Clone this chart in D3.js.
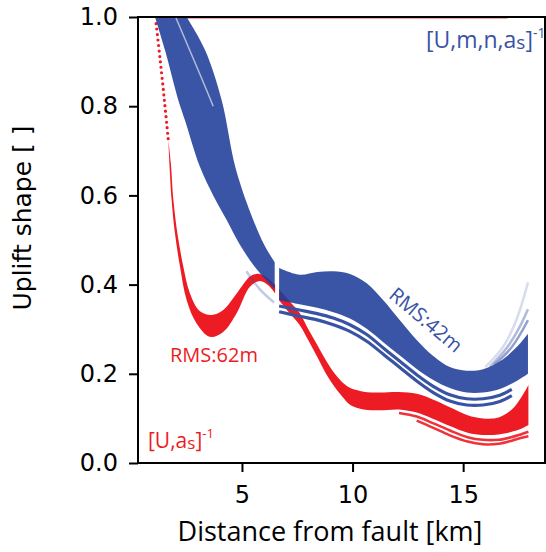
<!DOCTYPE html>
<html><head><meta charset="utf-8">
<script src="https://cdn.jsdelivr.net/npm/d3@7"></script>
<style>
html,body{margin:0;padding:0;background:#fff;}
svg{display:block;}
</style></head>
<body>
<svg id="chart" width="546" height="552"></svg>
<script>
// Axis ticks
const xTicks = [5, 10, 15];
const yTicks = [0.0, 0.2, 0.4, 0.6, 0.8, 1.0];

// [U,as]^-1 ensemble (red): steep near-fault part, then envelope of the band
const redTopX = [1.12, 1.3, 1.5, 1.67];
const redTopY = [0.985, 0.905, 0.81, 0.724];
const redCapX = [2.3, 17.0];            // curves saturating at 1.0
const redUpX1 = [1.67, 1.78, 1.9, 2.08, 2.35, 2.65, 3.1, 3.63, 4.15, 4.76, 5.36, 5.66, 6.0, 6.5];
const redUpY1 = [0.724, 0.675, 0.59, 0.515, 0.44, 0.38, 0.34, 0.332, 0.343, 0.38, 0.418, 0.424, 0.42, 0.40];
const redLoX1 = [1.67, 1.82, 1.97, 2.2, 2.5, 2.95, 3.55, 4.15, 4.76, 5.36, 5.81, 6.2, 6.5];
const redLoY1 = [0.724, 0.59, 0.515, 0.44, 0.365, 0.313, 0.283, 0.294, 0.336, 0.395, 0.408, 0.398, 0.38];
const redUpX2 = [6.68, 7.2, 7.6, 8.0, 8.4, 8.8, 9.2, 9.6, 9.9, 10.5, 11.2, 12.1, 12.9, 13.6, 14.4, 15.2, 15.9, 16.6, 17.2, 17.6, 17.95];
const redUpY2 = [0.39, 0.36, 0.337, 0.3, 0.265, 0.23, 0.2, 0.178, 0.168, 0.16, 0.158, 0.159, 0.155, 0.143, 0.125, 0.107, 0.1, 0.102, 0.12, 0.145, 0.175];
const redLoX2 = [6.68, 7.0, 7.6, 8.0, 8.4, 8.8, 9.2, 9.6, 9.9, 10.5, 11.2, 12.1, 12.9, 13.6, 14.4, 15.2, 15.9, 16.6, 17.2, 17.6, 17.95];
const redLoY2 = [0.365, 0.345, 0.31, 0.275, 0.238, 0.2, 0.17, 0.145, 0.13, 0.12, 0.118, 0.12, 0.113, 0.1, 0.083, 0.068, 0.063, 0.064, 0.07, 0.076, 0.085];
const redStrand1X = [12.1, 12.9, 13.6, 14.4, 15.2, 15.9, 16.6, 17.2, 17.6, 17.95];
const redStrand1Y = [0.112, 0.104, 0.09, 0.073, 0.058, 0.052, 0.052, 0.058, 0.064, 0.07];
const redStrand2X = [12.9, 13.6, 14.4, 15.2, 15.9, 16.6, 17.2, 17.6, 17.95];
const redStrand2Y = [0.095, 0.08, 0.062, 0.048, 0.042, 0.043, 0.05, 0.056, 0.06];

// [U,m,n,as]^-1 ensemble (blue)
const blueUpX1 = [2.5, 3.33, 4.08, 4.72, 5.51, 6.0, 6.48];
const blueUpY1 = [1.0, 0.926, 0.814, 0.66, 0.545, 0.49, 0.45];
const blueLoX1 = [1.07, 1.52, 2.12, 2.42, 3.1, 3.7, 4.31, 4.9, 5.5, 6.0, 6.48];
const blueLoY1 = [1.0, 0.926, 0.814, 0.769, 0.664, 0.6, 0.545, 0.49, 0.445, 0.415, 0.39];
const blueUpX2 = [6.68, 7.6, 8.4, 9.13, 9.88, 10.64, 11.39, 12.14, 12.9, 13.65, 14.4, 15.16, 15.9, 16.66, 17.42, 17.93];
const blueUpY2 = [0.437, 0.422, 0.428, 0.43, 0.424, 0.403, 0.365, 0.32, 0.276, 0.24, 0.215, 0.207, 0.21, 0.228, 0.26, 0.29];
const blueLoX2 = [6.68, 7.6, 8.4, 9.13, 9.88, 10.64, 11.39, 12.14, 12.9, 13.65, 14.4, 15.16, 15.9, 16.66, 17.42, 17.93];
const blueLoY2 = [0.365, 0.356, 0.348, 0.338, 0.324, 0.301, 0.271, 0.241, 0.211, 0.186, 0.168, 0.158, 0.158, 0.166, 0.184, 0.2];
const blueStrandX = [6.68, 7.6, 8.4, 9.13, 9.88, 10.64, 11.39, 12.14, 12.9, 13.65, 14.4, 15.16, 15.9, 16.66, 17.2];
const blueStrandAY = [0.352, 0.343, 0.335, 0.325, 0.31, 0.288, 0.258, 0.228, 0.198, 0.172, 0.153, 0.144, 0.144, 0.152, 0.165];
const blueStrandBY = [0.339, 0.329, 0.321, 0.31, 0.295, 0.273, 0.244, 0.214, 0.184, 0.158, 0.139, 0.13, 0.13, 0.138, 0.151];
const blueFadeLX = [5.2, 5.8, 6.45];
const blueFadeLY = [0.43, 0.39, 0.36];
const blueFan1X = [16.0, 16.8, 17.4, 17.93];
const blueFan1Y = [0.215, 0.26, 0.32, 0.405];
const blueFan2X = [16.2, 17.0, 17.5, 17.93];
const blueFan2Y = [0.215, 0.26, 0.3, 0.345];
const blueFan3X = [16.4, 17.2, 17.93];
const blueFan3Y = [0.22, 0.26, 0.32];
const blueStreakX = [2.0, 2.6, 3.2, 3.7];
const blueStreakY = [1.0, 0.93, 0.86, 0.8];

const RED = "#ed1c24";
const BLUE = "#3953a4";

const svg = d3.select("#chart");
const plotL = 138, plotR = 545, plotT = 17, plotB = 463;

const x = d3.scaleLinear().domain([0.3, 18.7]).range([plotL, plotR]);
const y = d3.scaleLinear().domain([0, 1]).range([plotB, plotT]);

svg.append("defs").append("clipPath").attr("id", "plot")
  .append("rect").attr("x", plotL).attr("y", plotT).attr("width", plotR - plotL).attr("height", plotB - plotT);

const g = svg.append("g").attr("clip-path", "url(#plot)");

const smooth = d3.line().curve(d3.curveCatmullRom.alpha(0.5));
const pts = (xs, ys) => xs.map((d, i) => [x(d), y(ys[i])]);
function band(ux, uy, lx, ly) {
  const up = smooth(pts(ux, uy));
  const lo = smooth(pts(lx, ly).reverse());
  return up + "L" + lo.slice(1) + "Z";
}

// red ensemble
g.append("path").attr("d", smooth(pts(redTopX, redTopY)))
  .attr("fill", "none").attr("stroke", RED).attr("stroke-width", 3.2)
  .attr("stroke-linecap", "round").attr("stroke-dasharray", "0 5.5");
g.append("line").attr("x1", x(redCapX[0])).attr("x2", x(redCapX[1]))
  .attr("y1", y(1)).attr("y2", y(1)).attr("stroke", RED).attr("stroke-width", 3.6).attr("stroke-opacity", 0.55);
g.append("path").attr("d", band(redUpX1, redUpY1, redLoX1, redLoY1)).attr("fill", RED);
g.append("path").attr("d", band(redUpX2, redUpY2, redLoX2, redLoY2)).attr("fill", RED);
[[redStrand1X, redStrand1Y], [redStrand2X, redStrand2Y]].forEach(([xs, ys]) => {
  g.append("path").attr("d", smooth(pts(xs, ys))).attr("fill", "none")
    .attr("stroke", RED).attr("stroke-width", 2.6).attr("stroke-opacity", 0.9);
});

// blue ensemble
const blueFill = "#1f3e9a";
g.append("path").attr("d", band(blueUpX1, blueUpY1, blueLoX1, blueLoY1)).attr("fill", blueFill).attr("fill-opacity", 0.88);
g.append("path").attr("d", band(blueUpX2, blueUpY2, blueLoX2, blueLoY2)).attr("fill", blueFill).attr("fill-opacity", 0.88);
[blueStrandAY, blueStrandBY].forEach(ys => {
  g.append("path").attr("d", smooth(pts(blueStrandX, ys))).attr("fill", "none")
    .attr("stroke", BLUE).attr("stroke-width", 3.2);
});
g.append("path").attr("d", smooth(pts(blueFadeLX, blueFadeLY))).attr("fill", "none")
  .attr("stroke", BLUE).attr("stroke-width", 2.5).attr("stroke-opacity", 0.3);
[[blueFan1X, blueFan1Y, 0.2], [blueFan2X, blueFan2Y, 0.4], [blueFan3X, blueFan3Y, 0.55]].forEach(([xs, ys, o]) => {
  g.append("path").attr("d", smooth(pts(xs, ys))).attr("fill", "none")
    .attr("stroke", BLUE).attr("stroke-width", 2.5).attr("stroke-opacity", o);
});
g.append("path").attr("d", smooth(pts(blueStreakX, blueStreakY))).attr("fill", "none")
  .attr("stroke", "#fff").attr("stroke-width", 1.5).attr("stroke-opacity", 0.6);

// axes
const yAxis = svg.append("g").attr("transform", `translate(${plotL},0)`)
  .call(d3.axisLeft(y).tickValues(yTicks).tickFormat(d3.format(".1f")).tickSize(9).tickPadding(11));
const xAxis = svg.append("g").attr("transform", `translate(0,${plotB})`)
  .call(d3.axisBottom(x).tickValues(xTicks).tickFormat(d3.format("d")).tickSize(9).tickPadding(14));
[yAxis, xAxis].forEach(a => {
  a.select(".domain").remove();
  a.selectAll(".tick line").attr("stroke", "#000").attr("stroke-width", 2);
  a.selectAll(".tick text").attr("fill", "#000")
    .style("font-family", "'DejaVu Sans'").style("font-size", "24px");
});

// frame
svg.append("rect").attr("x", plotL).attr("y", plotT).attr("width", plotR - plotL).attr("height", plotB - plotT)
  .attr("fill", "none").attr("stroke", "#000").attr("stroke-width", 2);

// axis titles
svg.append("text").attr("transform", "translate(31,218) rotate(-90)")
  .attr("text-anchor", "middle").style("font-family", "'DejaVu Sans'").style("font-size", "25px")
  .text("Uplift shape [ ]");
svg.append("text").attr("x", 330).attr("y", 541).attr("text-anchor", "middle")
  .style("font-family", "'Open Sans'").style("font-size", "27px").text("Distance from fault [km]");

// annotations
const ann = "'Open Sans'";
const t1 = svg.append("text").attr("x", 426).attr("y", 48).attr("fill", BLUE)
  .style("font-family", ann).style("font-size", "23px");
t1.append("tspan").text("[U,m,n,a");
t1.append("tspan").style("font-size", "19px").attr("dy", 1).text("s");
t1.append("tspan").attr("dy", -1).text("]");
t1.append("tspan").style("font-size", "14px").attr("dy", -10).text("-1");

const t2 = svg.append("text").attr("x", 148).attr("y", 448).attr("fill", RED)
  .style("font-family", ann).style("font-size", "21px");
t2.append("tspan").text("[U,a");
t2.append("tspan").style("font-size", "17px").attr("dy", 1).text("s");
t2.append("tspan").attr("dy", -1).text("]");
t2.append("tspan").style("font-size", "13px").attr("dy", -10).text("-1");

svg.append("text").attr("x", 170).attr("y", 362).attr("fill", RED)
  .style("font-family", ann).style("font-size", "20px").text("RMS:62m");
svg.append("text").attr("transform", "translate(426,320) rotate(40)")
  .attr("text-anchor", "middle").attr("dy", "0.35em").attr("fill", BLUE)
  .style("font-family", ann).style("font-size", "20px").text("RMS:42m");
</script>
</body></html>
